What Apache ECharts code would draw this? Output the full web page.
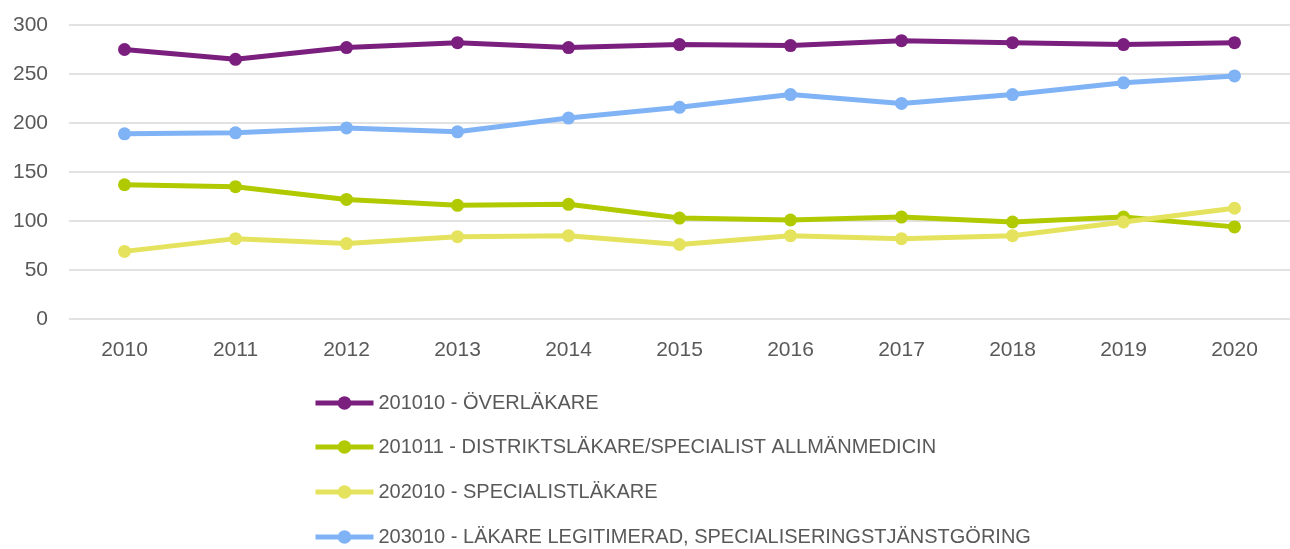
<!DOCTYPE html>
<html>
<head>
<meta charset="utf-8">
<script src="https://cdn.jsdelivr.net/npm/echarts@6/dist/echarts.min.js"></script>
<style>
  html, body { margin: 0; padding: 0; background: #fff; }
  #main { width: 1290px; height: 549px; }
</style>
</head>
<body>
<div id="main"></div>
<script>
// data
var years = ['2010', '2011', '2012', '2013', '2014', '2015', '2016', '2017', '2018', '2019', '2020'];
var seriesNames = [
  '201010 - ÖVERLÄKARE',
  '201011 - DISTRIKTSLÄKARE/SPECIALIST ALLMÄNMEDICIN',
  '202010 - SPECIALISTLÄKARE',
  '203010 - LÄKARE LEGITIMERAD, SPECIALISERINGSTJÄNSTGÖRING'
];
var overlakare = [275, 265, 277, 282, 277, 280, 279, 284, 282, 280, 282];
var distrikt = [137, 135, 122, 116, 117, 103, 101, 104, 99, 104, 94];
var specialist = [69, 82, 77, 84, 85, 76, 85, 82, 85, 99, 113];
var legitimerad = [189, 190, 195, 191, 205, 216, 229, 220, 229, 241, 248];
var colors = ['#7B1F7E', '#B1CA00', '#E5E35E', '#80B3F6'];

var chart = echarts.init(document.getElementById('main'));

function makeSeries(i, values) {
  return {
    name: seriesNames[i],
    type: 'line',
    data: values,
    symbol: 'circle',
    symbolSize: 13,
    lineStyle: { width: 5, color: colors[i] },
    itemStyle: { color: colors[i] }
  };
}

var font = '"Liberation Sans", sans-serif';

// one legend per row so the column never wraps
function makeLegend(i, top) {
  return {
    orient: 'vertical',
    left: 313,
    top: top,
    padding: 0,
    itemWidth: 58,
    itemHeight: 17,
    lineStyle: { width: 5 },
    textStyle: { color: '#595959', fontSize: 20, fontFamily: font },
    data: [seriesNames[i]]
  };
}

var option = {
  animation: false,
  color: colors,
  grid: { left: 69, top: 25, width: 1230, height: 294 },
  legend: [
    makeLegend(0, 393),
    makeLegend(1, 437),
    makeLegend(2, 482),
    makeLegend(3, 527)
  ],
  xAxis: {
    type: 'category',
    data: years,
    boundaryGap: true,
    axisLine: { show: false },
    axisTick: { show: false },
    axisLabel: { color: '#595959', fontSize: 21, fontFamily: font, margin: 21 }
  },
  yAxis: {
    type: 'value',
    min: 0,
    max: 300,
    interval: 50,
    axisLine: { show: false },
    axisTick: { show: false },
    axisLabel: { color: '#595959', fontSize: 21, fontFamily: font, margin: 21 },
    splitLine: { lineStyle: { color: '#D9D9D9', width: 1.5 } }
  },
  series: [
    makeSeries(0, overlakare),
    makeSeries(1, distrikt),
    makeSeries(2, specialist),
    makeSeries(3, legitimerad)
  ]
};

chart.setOption(option);
</script>
</body>
</html>
